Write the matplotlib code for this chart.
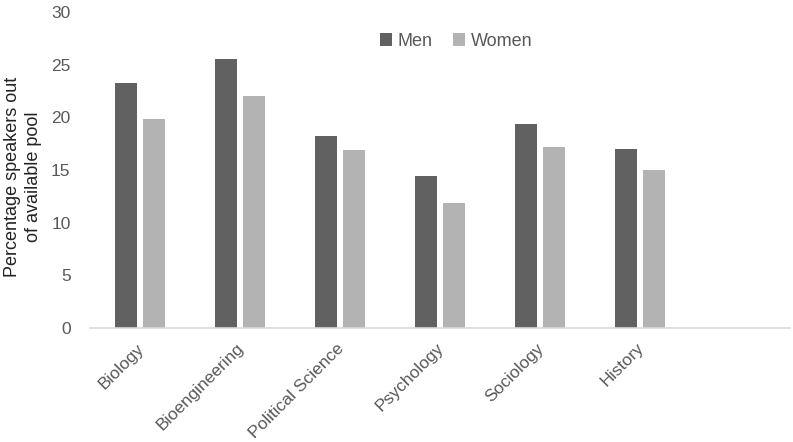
import matplotlib
matplotlib.use("Agg")
import matplotlib.pyplot as plt
import matplotlib.transforms as mtrans
import numpy as np

categories = ["Biology", "Bioengineering", "Political Science", "Psychology", "Sociology", "History"]
men = [23.3, 25.5, 18.2, 14.4, 19.4, 17.0]
women = [19.8, 22.0, 16.9, 11.9, 17.2, 15.0]
yticks = [0, 5, 10, 15, 20, 25, 30]

plt.rcParams['font.family'] = ['Liberation Sans', 'DejaVu Sans']

fig = plt.figure(figsize=(7.93, 4.42), dpi=100)
ax = fig.add_axes([90/793, 1-328/442, 700/793, 316/442])

x = np.arange(len(categories))
w = 0.22
ax.bar(x - 0.14, men, width=w, color="#616161", label="Men")
ax.bar(x + 0.14, women, width=w, color="#b3b3b3", label="Women")

ax.set_xlim(-0.5, 6.5)
ax.set_ylim(0, 30)
ax.set_yticks(yticks)
ax.set_yticklabels([str(t) for t in yticks], fontsize=12.5, color="#595959")
ax.set_xticks(x)
ax.set_xticklabels(categories, rotation=45, ha="right", rotation_mode="anchor",
                   fontsize=12.5, color="#595959")
ax.tick_params(axis="both", length=0)
ax.tick_params(axis="y", pad=14)
ax.tick_params(axis="x", pad=9)
offset = mtrans.ScaledTranslation(-4/100, 0, fig.dpi_scale_trans)
for lbl in ax.get_xticklabels():
    lbl.set_transform(lbl.get_transform() + offset)

for s in ["top", "right", "left"]:
    ax.spines[s].set_visible(False)
ax.spines["bottom"].set_color("#d9d9d9")
ax.spines["bottom"].set_linewidth(1.2)

fig.text(23/793, 1-177/442, "Percentage speakers out\nof available pool", fontsize=13,
         color="#222222", rotation=90, ha="center", va="center", linespacing=1.3,
         multialignment="center")

leg = ax.legend(loc="center", bbox_to_anchor=(0.523, 0.908), ncol=2, frameon=False,
                fontsize=13, handlelength=0.7, handleheight=0.7, handletextpad=0.3,
                columnspacing=1.1, labelcolor="#595959")

fig.savefig("out.png", dpi=100)
